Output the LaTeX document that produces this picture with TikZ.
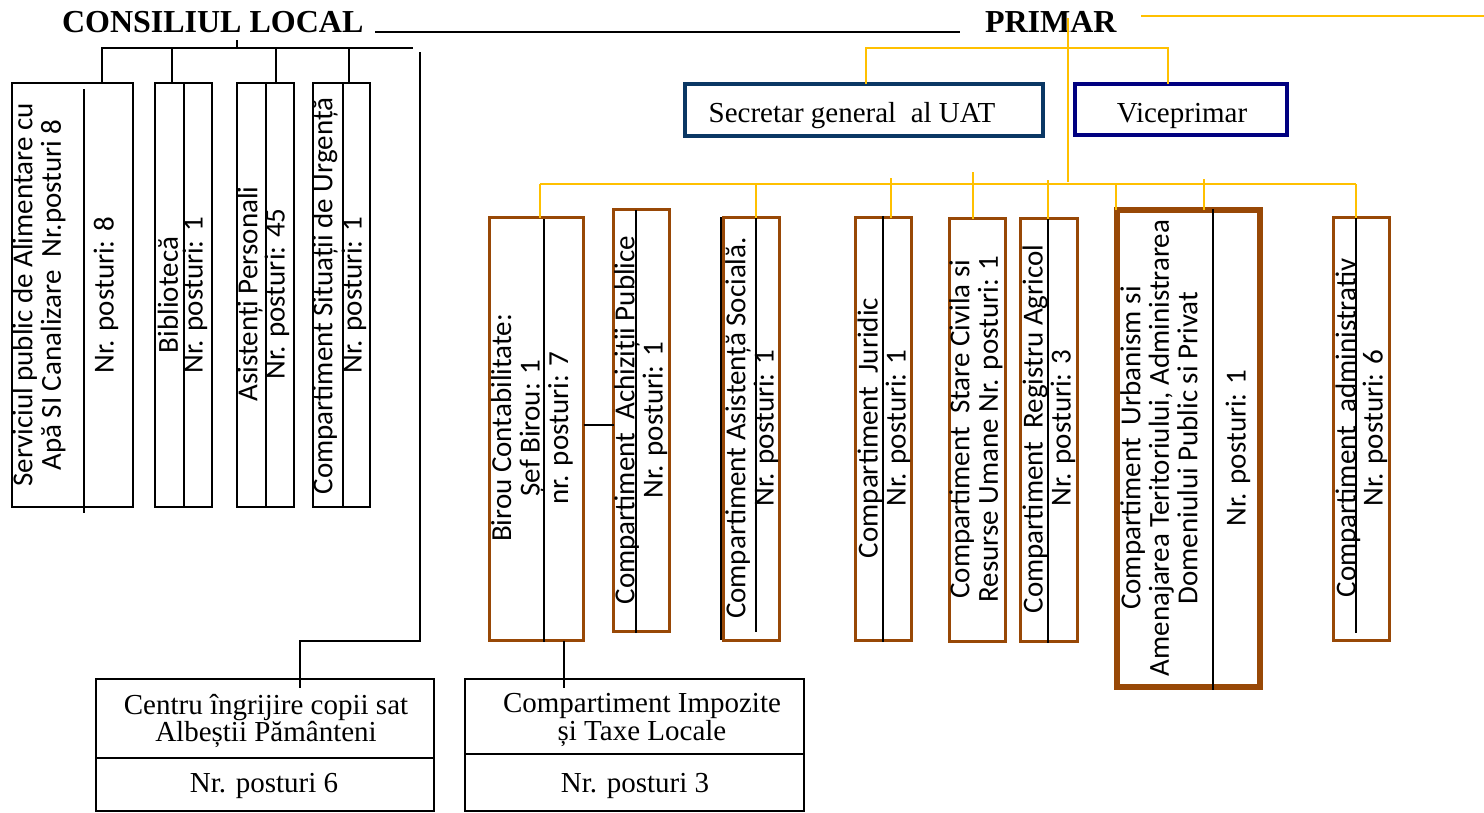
\documentclass[tikz,border=0pt]{standalone}
\usepackage{fontspec}
\setmainfont{Liberation Serif}
\newfontfamily\carlito{Carlito}
\definecolor{brn}{RGB}{152,72,6}
\definecolor{ylw}{RGB}{255,192,0}
\definecolor{secblue}{RGB}{10,55,100}
\definecolor{vicenavy}{RGB}{0,0,128}

\begin{document}
\begin{tikzpicture}[x=1pt, y=-1pt,
  nodes = {inner sep=0, outer sep=0},
  plain/.style = {draw, line width=1.3},
  unit/.style = {draw=brn, line width=3.5},
  head/.style = {font=\bfseries\fontsize{32}{36}\selectfont, anchor=base west},
  serif/.style = {font=\fontsize{29}{25}\selectfont, align=center},
  vtxt/.style = {rotate=90, align=center, font=\carlito\fontsize{29}{28.5}\selectfont},
  blk/.style = {line width=1.3},
  yl/.style = {draw=ylw, line width=1.6}
  ]
  \useasboundingbox (0,0) rectangle (1484,812);

  \node (consiliu) [head] at (62,32) {CONSILIUL LOCAL};
  \node (primar) [head] at (985,32) {PRIMAR};
  \draw[line width=1.8] ([xshift=12]consiliu.base east) -- ([xshift=-25]primar.base west);

  \node (serv) [plain, minimum width=121, minimum height=424] at (72.5,295) {};
  \node (bib)  [plain, minimum width=57, minimum height=424] at (183.5,295) {};
  \node (asp)  [plain, minimum width=57, minimum height=424] at (265.5,295) {};
  \node (urg)  [plain, minimum width=57, minimum height=424] at (341.5,295) {};

  \node (secr) [draw=secblue, line width=3.5, minimum width=358, minimum height=52] at (864,110) {};
  \node (vice) [draw=vicenavy, line width=3.5, minimum width=212, minimum height=51] at (1181,109.5) {};

  \node (birou) [unit, minimum width=94, minimum height=423] at (536.5,429) {};
  \node (achiz) [unit, minimum width=56, minimum height=422] at (641.5,420.5) {};
  \node (soc)   [unit, minimum width=56, minimum height=423] at (751.5,429) {};
  \node (jur)   [unit, minimum width=56, minimum height=423] at (883.5,429) {};
  \node (stare) [unit, minimum width=56, minimum height=423] at (977.5,430) {};
  \node (agr)   [unit, minimum width=57, minimum height=423] at (1049,430) {};
  \node (urb)   [unit, line width=6, minimum width=143, minimum height=477] at (1188.5,448.5) {};
  \node (adm)   [unit, minimum width=56, minimum height=423] at (1361.5,429) {};

  \node (centru) [plain, minimum width=338, minimum height=132] at (265,745) {};
  \node (impoz)  [plain, minimum width=339, minimum height=132] at (634.5,745) {};

  \foreach \x/\ya/\yb in {84/89/513, 184/83/507, 266/83/507, 343/83/507,
    544/219/642, 636/210/633, 756/208/632, 883/216/642, 1048/217/643,
    1213/209/690, 1356/209/633}
    \draw[blk] (\x,\ya) -- (\x,\yb);
  \draw[line width=2] (721,217) -- (721,640);
  \draw[blk] (centru.west |- 0,758) -- (centru.east |- 0,758);
  \draw[blk] (impoz.west |- 0,754) -- (impoz.east |- 0,754);

  \node (t-serv) [vtxt] at (39,295) {Serviciul public de Alimentare cu\\Apă SI Canalizare \ Nr.posturi 8};
  \node (n-serv) [vtxt] at (106,295) {Nr. posturi: 8};
  \node (t-bib) [vtxt] at (168,295) {Bibliotecă};
  \node (n-bib) [vtxt] at (195,295) {Nr. posturi: 1};
  \node (t-asp) [vtxt] at (250,294) {Asistenți Personali};
  \node (n-asp) [vtxt] at (277,294) {Nr. posturi: 45};
  \node (t-urg) [vtxt] at (325,296) {Compartiment Situații de Urgență};
  \node (n-urg) [vtxt] at (354,295) {Nr. posturi: 1};

  \node (t-birou) [vtxt] at (532,428) {Birou Contabilitate:\\Șef Birou: 1\\nr. posturi: 7};
  \node (t-achiz) [vtxt] at (627,420) {Compartiment \ Achiziții Publice};
  \node (n-achiz) [vtxt] at (655,420) {Nr. posturi: 1};
  \node (t-soc) [vtxt] at (738,428) {Compartiment Asistență Socială.};
  \node (n-soc) [vtxt] at (766,428) {Nr. posturi: 1};
  \node (t-jur) [vtxt] at (870,428) {Compartiment \ Juridic};
  \node (n-jur) [vtxt] at (898,428) {Nr. posturi: 1};
  \node (t-stare) [vtxt] at (976,429) {Compartiment \ Stare Civila si\\Resurse Umane Nr. posturi: 1};
  \node (t-agr) [vtxt] at (1035,429) {Compartiment \ Registru Agricol};
  \node (n-agr) [vtxt] at (1063,428) {Nr. posturi: 3};
  \node (t-urb) [vtxt] at (1159,448) {Compartiment \ Urbanism si\\Amenajarea Teritoriului, Administrarea\\Domeniului Public si Privat};
  \node (n-urb) [vtxt] at (1238,448) {Nr. posturi: 1};
  \node (t-adm) [vtxt] at (1348,428) {Compartiment \ administrativ};
  \node (n-adm) [vtxt] at (1375,428) {Nr. posturi: 6};

  \node (t-secr) [serif, anchor=base] at (852,122) {Secretar general \ al UAT};
  \node (t-vice) [serif, anchor=base] at (1182,122) {Viceprimar};
  \node (t-centru) [serif] at (266,721) {Centru îngrijire copii sat\\Albeștii Pământeni};
  \node (n-centru) [serif, anchor=base] at (264,792) {Nr. posturi 6};
  \node (t-impoz) [serif] at (642,720) {Compartiment Impozite\\și Taxe Locale};
  \node (n-impoz) [serif, anchor=base] at (635,792) {Nr. posturi 3};

  \coordinate (cl) at (237,40);
  \coordinate (cl-r) at (420,52);
  \coordinate (cl-k) at (300,641);
  \draw[blk] (cl) -- (237,48);
  \draw[blk] (101,48) -- (413,48);
  \foreach \b/\x in {serv/102, bib/172, asp/276, urg/349}
    \draw[blk] (\x,48) -- (\x,48 |- \b.north);
  \draw[blk] (cl-r) |- (cl-k) -- ([yshift=-9]cl-k |- centru.north);

  \draw[blk] (birou.east |- 0,425) -- (achiz.west |- 0,425);
  \draw[blk] (birou.south -| 564,0) -- ([yshift=-9]impoz.north -| 564,0);

  \draw[yl] (1141,16) -- (1484,16);
  \draw[yl] (1068,18) -- (1068,182);
  \draw[yl] (secr.north -| 866,0) -- (866,48) -| (vice.north -| 1168,0);
  \draw[yl] (540,184) -- (1356,184);
  \foreach \b/\x/\y in {birou/540/184, soc/756/184, jur/891/178, stare/973/172,
    agr/1048/180, urb/1116/183, urb/1204/179, adm/1356/184}
    \draw[yl] (\x,\y) -- (\x,\y |- \b.north);
\end{tikzpicture}
\end{document}
